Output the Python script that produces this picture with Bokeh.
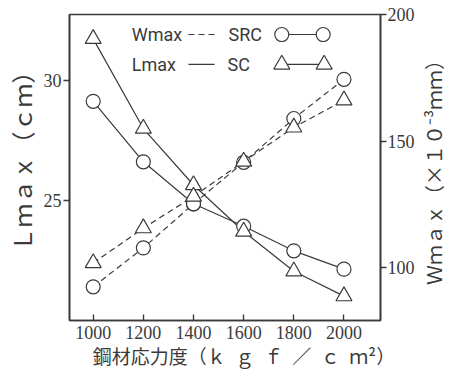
from bokeh.plotting import figure
from bokeh.layouts import row
from bokeh.models import Range1d, LinearAxis, Label, FixedTicker
from bokeh.embed import file_html
from bokeh.resources import INLINE

# ---- data ----
stress = [1000, 1200, 1400, 1600, 1800, 2000]          # kgf/cm2
lmax_src = [29.13, 26.62, 24.88, 23.95, 22.93, 22.17]   # cm, circles, solid
lmax_sc = [31.72, 28.00, 25.66, 23.73, 22.08, 21.05]    # cm, triangles, solid
wmax_src = [92.4, 107.8, 125.2, 141.6, 158.9, 174.4]    # x10^-3 mm, circles, dashed
wmax_sc = [101.8, 115.6, 128.1, 141.9, 155.4, 166.1]    # x10^-3 mm, triangles, dashed

x_ticks = [1000, 1200, 1400, 1600, 1800, 2000]
left_ticks = [25, 30]
right_ticks = [100, 150, 200]

INK = "#3a3a3a"
SERIF = "Liberation Serif"
CJK = "Noto Sans CJK JP"
NARROW = "'Liberation Sans Narrow', Roboto"
EN = "\u2002"

p = figure(width=417, height=371, output_backend="svg", toolbar_location=None,
           x_range=Range1d(905.5, 2145.7), y_range=Range1d(20.04, 32.73),
           min_border_left=65, min_border_right=37, min_border_top=14,
           min_border_bottom=50)
p.background_fill_color = "white"
p.border_fill_color = "white"
p.outline_line_color = INK
p.outline_line_width = 1.6
p.xgrid.visible = False
p.ygrid.visible = False

p.extra_y_ranges = {"w": Range1d(79.1, 200)}

# x axis
xa = p.xaxis[0]
xa.ticker = FixedTicker(ticks=x_ticks)
xa.minor_tick_line_color = None
xa.major_tick_in = 6
xa.major_tick_out = 0
xa.major_label_standoff = 5
xa.axis_label = EN * 4 + "鋼材応力度（" + EN.join("ｋｇｆ／ｃ") + EN + "ｍ²）"
xa.axis_label_standoff = 0

# left axis
ya = p.yaxis[0]
ya.ticker = FixedTicker(ticks=left_ticks)
ya.minor_tick_line_color = None
ya.major_tick_in = 0
ya.major_tick_out = 6
ya.major_label_standoff = 2
ya.axis_label = EN * 2 + "Ｌｍａｘ（ｃｍ）"
ya.axis_label_standoff = 2

# right axis: ticks and numbers
ra = LinearAxis(y_range_name="w")
ra.ticker = FixedTicker(ticks=right_ticks)
ra.minor_tick_line_color = None
ra.major_tick_in = 0
ra.major_tick_out = 6
ra.major_label_standoff = 1
p.add_layout(ra, "right")

for ax in (xa, ya, ra):
    ax.axis_line_color = INK
    ax.axis_line_width = 1.6
    ax.major_tick_line_color = INK
    ax.major_tick_line_width = 1.4
    ax.major_label_text_font = SERIF
    ax.major_label_text_font_size = "18px"
    ax.major_label_text_color = INK
    ax.axis_label_text_font = CJK
    ax.axis_label_text_font_style = "normal"
    ax.axis_label_text_color = INK
xa.axis_label_text_font_size = "19px"
ya.axis_label_text_font_size = "24px"

# ---- series ----
LW = 1.2
p.line(stress, lmax_src, line_color=INK, line_width=LW)
p.line(stress, lmax_sc, line_color=INK, line_width=LW)
p.line(stress, wmax_src, line_color=INK, line_width=LW, line_dash="6 4", y_range_name="w")
p.line(stress, wmax_sc, line_color=INK, line_width=LW, line_dash="6 4", y_range_name="w")

p.scatter(stress, lmax_src, marker="circle", size=14, fill_color="white", line_color=INK, line_width=LW)
p.scatter(stress, lmax_sc, marker="triangle", size=16, fill_color="white", line_color=INK, line_width=LW)
p.scatter(stress, wmax_src, marker="circle", size=14, fill_color="white", line_color=INK, line_width=LW, y_range_name="w")
p.scatter(stress, wmax_sc, marker="triangle", size=16, fill_color="white", line_color=INK, line_width=LW, y_range_name="w")

# ---- hand-made legend ----
row1_y, row2_y = 31.90, 30.66
for txt, x, y in [("Wmax", 1153.5, row1_y), ("Lmax", 1153.5, row2_y),
                  ("SRC", 1539.4, row1_y), ("SC", 1535.4, row2_y)]:
    p.add_layout(Label(x=x, y=y, text=txt, text_font=NARROW, text_font_size="18px",
                       text_color=INK, text_baseline="middle", text_align="left"))
p.line([1380, 1484], [row1_y, row1_y], line_color=INK, line_width=LW, line_dash="6 4")
p.line([1380, 1484], [row2_y, row2_y], line_color=INK, line_width=LW)
p.line([1752, 1917], [row1_y, row1_y], line_color=INK, line_width=LW)
p.scatter([1752, 1917], [row1_y, row1_y], marker="circle", size=14, fill_color="white", line_color=INK, line_width=LW)
p.line([1752, 1921], [row2_y, row2_y], line_color=INK, line_width=LW)
p.scatter([1752, 1921], [row2_y, row2_y], marker="triangle", size=16, fill_color="white", line_color=INK, line_width=LW)

# ---- narrow companion figure carrying the right-hand title (reads bottom-to-top) ----
q = figure(width=30, height=371, output_backend="svg", toolbar_location=None,
           x_range=Range1d(0, 1), y_range=Range1d(0, 1),
           min_border_left=28, min_border_right=0, min_border_top=14,
           min_border_bottom=50)
q.outline_line_color = None
q.background_fill_color = "white"
q.border_fill_color = "white"
q.xgrid.visible = False
q.ygrid.visible = False
q.xaxis.visible = False
qa = q.yaxis[0]
qa.ticker = FixedTicker(ticks=[])
qa.axis_line_color = None
qa.major_tick_line_color = None
qa.minor_tick_line_color = None
qa.axis_label = "Ｗｍａｘ（×１０⁻³ｍｍ）"
qa.axis_label_standoff = 0
qa.axis_label_text_font = CJK
qa.axis_label_text_font_style = "normal"
qa.axis_label_text_font_size = "20px"
qa.axis_label_text_color = INK

layout = row(p, q, spacing=0)
open("out.html", "w").write(file_html(layout, INLINE))
